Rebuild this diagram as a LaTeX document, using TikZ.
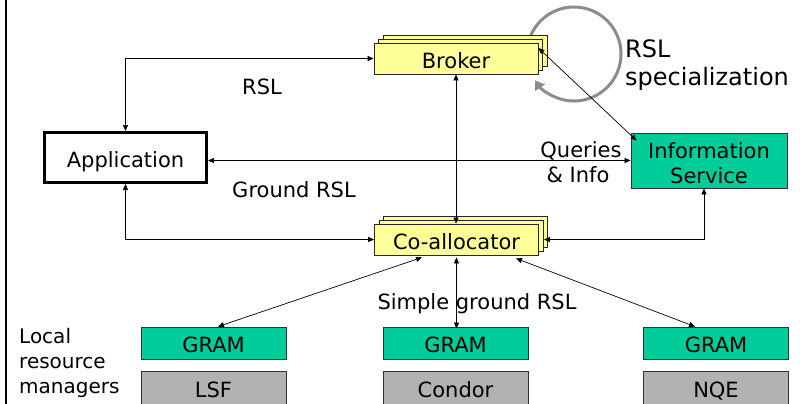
\documentclass[tikz,border=0pt]{standalone}
\usepackage{fontspec}
\setmainfont{DejaVu Sans}
\usetikzlibrary{arrows.meta}

\definecolor{boxyellow}{RGB}{255,255,153}
\definecolor{boxgreen}{RGB}{0,204,153}
\definecolor{boxgrey}{RGB}{178,178,178}
\definecolor{loopgrey}{RGB}{140,140,140}

\begin{document}
\begin{tikzpicture}[x=1pt,y=-1pt,
  every node/.style={font=\fontsize{21}{25}\selectfont, inner sep=0pt},
  boxtext/.style={text height=19.5pt, text depth=0.2pt},
  layer/.style={draw=black!85, line width=0.8pt, fill=boxyellow,
    minimum width=164pt, minimum height=31pt, boxtext},
  greenbox/.style={draw=black!80, line width=0.8pt, fill=boxgreen},
  lrmbox/.style={draw=black!80, line width=0.8pt, fill=boxgrey,
    minimum width=145pt, minimum height=34pt, boxtext},
  gram/.style={greenbox, minimum width=145pt, minimum height=32pt, boxtext},
  link/.style={line width=0.7pt, {Triangle[length=6pt,width=5pt]}-{Triangle[length=6pt,width=5pt]}},
  spec/.style={anchor=base west, font=\fontsize{24}{28}\selectfont},
  sidelabel/.style={anchor=base west, font=\fontsize{20}{25}\selectfont}
]
\useasboundingbox (0,0) rectangle (800,404);
\clip (0,0) rectangle (800,404);

% left frame line
\draw[line width=2pt] (6,-2) -- (6,406);

% RSL specialization loop (behind the broker stack)
\draw[loopgrey, line width=3pt, -{Triangle[length=9pt,width=11pt]}]
  (574,54) ++(-163:47) arc[start angle=-163, end angle=146, radius=47];

% broker stack
\node[layer] (BrokerB2) at (465,50.5) {};
\node[layer] (BrokerB1) at (460.5,54.5) {};
\node[layer] (Broker) at (456,58.5) {Broker};

% co-allocator stack
\node[layer] (CoallocB2) at (465.5,232) {};
\node[layer] (CoallocB1) at (461,235.5) {};
\node[layer] (Coalloc) at (456.5,239.5) {Co-allocator};

% application
\node[draw, line width=3pt, minimum width=162pt, minimum height=50pt, boxtext] (App) at (125.5,157.5) {Application};

% information service
\node[greenbox, minimum width=156pt, minimum height=55pt] (Info) at (709,160.5) {};
\node[align=center, yshift=-2.5pt] (InfoText) at (Info.center) {Information\\Service};

% GRAM gatekeepers and local resource managers
\node[gram] (GramL) at (213.5,343) {GRAM};
\node[gram] (GramM) at (455.5,343) {GRAM};
\node[gram] (GramR) at (716,343) {GRAM};
\node[lrmbox] (LSF) at (213.5,388) {LSF};
\node[lrmbox] (Condor) at (455.5,388) {Condor};
\node[lrmbox] (NQE) at (716,388) {NQE};

% labels
\node[anchor=base] (lRSL) at (262,94) {RSL};
\node[anchor=base] (lGround) at (294,197) {Ground RSL};
\node[anchor=base] (lSimple) at (477,309) {Simple ground RSL};
\node[sidelabel] (lLocal) at (19,343) {Local};
\node[sidelabel] (lRes) at (19,368) {resource};
\node[sidelabel] (lMan) at (19,393) {managers};
\node[anchor=base] (lQueries) at (581,157) {Queries};
\node[anchor=base] (lInfo) at (578,182) {\& Info};
\node[spec] (lSpecA) at (625,58) {RSL};
\node[spec] (lSpecB) at (625,85) {specialization};

% connectors
\draw[link] (App.north) -- (App.north |- Broker.west) -- (Broker.west);
\draw[link] (App.east |- Info.west) -- (Info.west);
\draw[link] (App.south) -- (App.south |- Coalloc.west) -- (Coalloc.west);
\draw[link] (Broker.south) -- (Broker.south |- Coalloc.north);
\draw[link] ([yshift=10.5pt]Broker.east) -- ([xshift=6pt,yshift=-8pt]Info.north west);
\draw[link] ([xshift=5pt]Coalloc.east) -- ([xshift=-5pt]Info.south |- Coalloc.east) -- ([xshift=-5pt]Info.south);
\draw[link] ([xshift=-34.5pt,yshift=-2pt]Coalloc.south) -- ([xshift=4.5pt]GramL.north);
\draw[link] ([yshift=-2pt]Coalloc.south) -- ([yshift=-2pt]Coalloc.south |- GramM.north);
\draw[link] ([xshift=59.5pt,yshift=-3pt]Coalloc.south) -- ([xshift=-21pt]GramR.north);
\end{tikzpicture}
\end{document}
